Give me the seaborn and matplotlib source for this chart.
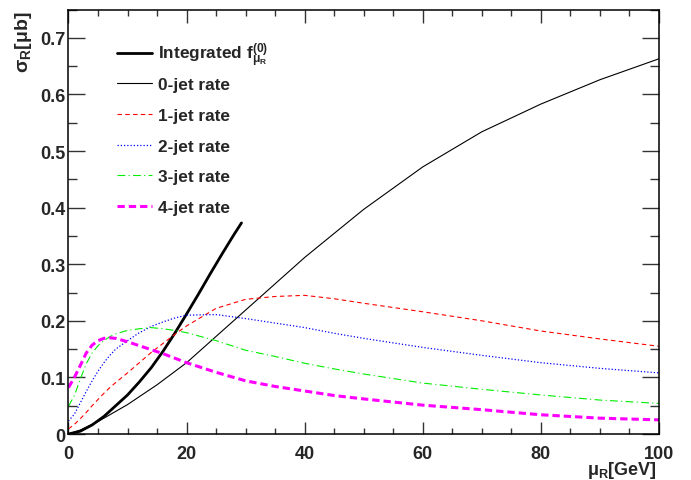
import matplotlib
matplotlib.use("Agg")
import matplotlib.pyplot as plt
import seaborn as sns
import pandas as pd
from matplotlib.ticker import MultipleLocator, FuncFormatter

# Renormalisation-scale dependence of the n-jet rates
mu_int = [0, 2, 4, 6, 8, 10, 12, 14, 16, 18, 20, 22, 24, 26, 28, 29.3]
integrated = [0.0, 0.005, 0.016, 0.031, 0.050, 0.069, 0.092, 0.117, 0.146,
              0.178, 0.212, 0.247, 0.283, 0.318, 0.352, 0.373]

mu_0jet = [0, 2, 5, 10, 15, 20, 30, 40, 50, 60, 70, 80, 90, 100]
rate_0jet = [0.0, 0.007, 0.022, 0.052, 0.087, 0.126, 0.219, 0.312, 0.397,
             0.472, 0.534, 0.583, 0.626, 0.663]

mu = [0, 1, 2, 3, 4, 5, 6, 7, 8, 10, 12, 14, 16, 18, 20, 25, 30, 35, 40, 45,
      50, 60, 70, 80, 90, 100]
rate_1jet = [0.009, 0.017, 0.027, 0.038, 0.050, 0.061, 0.072, 0.082, 0.091,
             0.108, 0.126, 0.144, 0.160, 0.176, 0.191, 0.222, 0.238, 0.243,
             0.245, 0.239, 0.231, 0.216, 0.200, 0.182, 0.168, 0.155]
rate_2jet = [0.023, 0.035, 0.055, 0.075, 0.094, 0.111, 0.126, 0.139, 0.150,
             0.165, 0.179, 0.190, 0.198, 0.205, 0.210, 0.211, 0.204, 0.196,
             0.188, 0.178, 0.169, 0.153, 0.139, 0.126, 0.116, 0.108]
rate_3jet = [0.049, 0.068, 0.097, 0.124, 0.143, 0.156, 0.165, 0.172, 0.177,
             0.183, 0.186, 0.188, 0.186, 0.183, 0.179, 0.165, 0.148, 0.137,
             0.125, 0.115, 0.106, 0.090, 0.079, 0.069, 0.060, 0.054]
rate_4jet = [0.082, 0.100, 0.121, 0.143, 0.157, 0.165, 0.169, 0.170, 0.169,
             0.163, 0.156, 0.149, 0.142, 0.134, 0.126, 0.109, 0.094, 0.084,
             0.076, 0.068, 0.062, 0.051, 0.043, 0.034, 0.028, 0.025]

sns.set_style("ticks")
plt.rcParams["font.family"] = ["Liberation Sans", "DejaVu Sans"]
plt.rcParams["font.weight"] = "bold"
plt.rcParams["mathtext.fontset"] = "custom"
plt.rcParams["mathtext.rm"] = "Liberation Sans:bold"
plt.rcParams["mathtext.bf"] = "Liberation Sans:bold"
plt.rcParams["mathtext.it"] = "Liberation Sans:bold"
plt.rcParams["mathtext.sf"] = "Liberation Sans:bold"

fig = plt.figure(figsize=(6.91, 4.81), dpi=100)
ax = fig.add_axes([0.0991, 0.0956, 0.8546, 0.8825])

curves = [
    (mu_int, integrated, r"Integrated f$^{(0)}_{\mu_{R}}$", "black", 2.0, "-"),
    (mu_0jet, rate_0jet, "0-jet rate", "black", 0.8, "-"),
    (mu, rate_1jet, "1-jet rate", "#ff0000", 0.8, (0, (4, 3))),
    (mu, rate_2jet, "2-jet rate", "#0000ff", 0.9, (0, (1, 1.6))),
    (mu, rate_3jet, "3-jet rate", "#00ee00", 0.8, (0, (7, 3, 1, 3))),
    (mu, rate_4jet, "4-jet rate", "#ff00ff", 2.2, (0, (2.4, 1.3))),
]
for xs, ys, lab, col, lw, ls in curves:
    df = pd.DataFrame({"mu": xs, "sigma": ys})
    sns.lineplot(data=df, x="mu", y="sigma", ax=ax, color=col, linewidth=lw,
                 linestyle=ls, label=lab)

ax.set_xlim(0, 100)
ax.set_ylim(0, 0.75)
ax.xaxis.set_major_locator(MultipleLocator(20))
ax.xaxis.set_minor_locator(MultipleLocator(5))
ax.yaxis.set_major_locator(MultipleLocator(0.1))
ax.yaxis.set_minor_locator(MultipleLocator(0.05))
ax.yaxis.set_major_formatter(
    FuncFormatter(lambda v, _: "0" if abs(v) < 1e-9 else f"{v:.1f}"))
ax.xaxis.set_major_formatter(FuncFormatter(lambda v, _: f"{v:.0f}"))
ax.set_xlabel("")
ax.set_ylabel("")

ax.tick_params(axis="both", which="both", direction="in", top=True, right=True,
               labelsize=13, width=1.0, color="#333333")
ax.tick_params(axis="x", which="major", length=9, pad=8)
ax.tick_params(axis="x", which="minor", length=4.5)
ax.tick_params(axis="y", which="major", length=12.5, pad=2.5)
ax.tick_params(axis="y", which="minor", length=6.3)
for lbl in ax.get_xticklabels() + ax.get_yticklabels():
    lbl.set_fontweight("bold")
for sp in ax.spines.values():
    sp.set_linewidth(1.1)
    sp.set_color("black")

# legend: the integrated curve on its own row, then the n-jet rates
handles, labels = ax.get_legend_handles_labels()
leg_kw = dict(frameon=False, fontsize=12.4, handlelength=2.05,
              handletextpad=0.3, borderaxespad=0, borderpad=0)
leg_x = 0.0823
leg_top = ax.legend(handles[:1], labels[:1], loc="center left",
                    bbox_to_anchor=(leg_x, (435 - 56) / 424.5), **leg_kw)
ax.add_artist(leg_top)
leg_rest = ax.legend(handles[1:], labels[1:], loc="center left",
                     bbox_to_anchor=(leg_x, (435 - 147) / 424.5),
                     labelspacing=0.9, **leg_kw)
for leg in (leg_top, leg_rest):
    for t in leg.get_texts():
        t.set_fontweight("bold")

fig.text(657 / 691, (481 - 475) / 481, r"$\mu_{R}$[GeV]", ha="right",
         va="baseline", fontsize=13, fontweight="bold")
fig.text(24 / 691, 1 - 12 / 481, r"$\sigma_{R}$[$\mu$b]", rotation=90,
         ha="center", va="top", fontsize=14, fontweight="bold")

fig.savefig("out.png", dpi=100)
